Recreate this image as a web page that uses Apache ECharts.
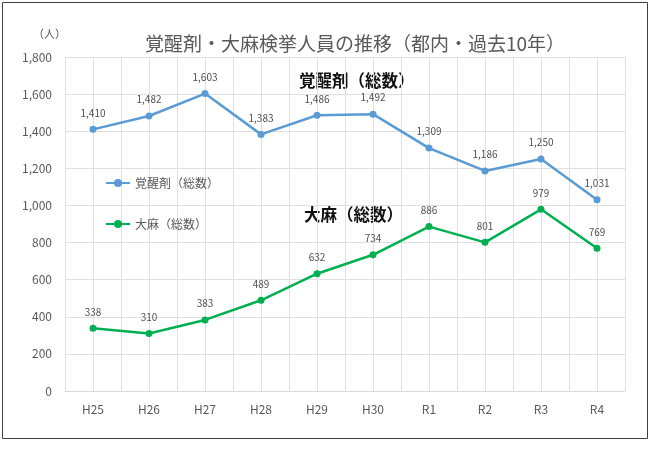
<!DOCTYPE html>
<html><head><meta charset="utf-8">
<script src="https://cdn.jsdelivr.net/npm/echarts@6/dist/echarts.min.js"></script>
<style>html,body{margin:0;padding:0;background:#fff}#c{width:650px;height:450px}</style>
</head><body><div id="c"></div>
<script>
const categories = ['H25','H26','H27','H28','H29','H30','R1','R2','R3','R4'];
const stimulants = [1410,1482,1603,1383,1486,1492,1309,1186,1250,1031];
const cannabis = [338,310,383,489,632,734,886,801,979,769];
const seriesNames = ['覚醒剤（総数）','大麻（総数）'];
const yTicks = {min:0,max:1800,interval:200};

const font = '"Noto Sans CJK JP", "Noto Sans", sans-serif';
const chart = echarts.init(document.getElementById('c'));
const fmt = v => v.toLocaleString('en-US');
chart.setOption({
  animation:false,
  textStyle:{fontFamily:font},
  title:{text:'覚醒剤・大麻検挙人員の推移（都内・過去10年）',left:140,top:29,
    textStyle:{fontSize:19,fontWeight:'normal',color:'#595959',fontFamily:font}},
  legend:{orient:'vertical',left:100,top:172,itemGap:29,itemWidth:24,itemHeight:10,
    textStyle:{fontSize:12,color:'#595959',fontFamily:font},data:seriesNames},
  grid:{left:65,right:25,top:57,bottom:59},
  xAxis:[{type:'category',data:categories,boundaryGap:true,
    axisLine:{show:true,lineStyle:{color:'#d9d9d9'}},axisTick:{show:false},
    axisLabel:{color:'#595959',fontSize:12,margin:12,fontFamily:font},splitLine:{show:false}},
    {type:'value',min:0,max:categories.length*2,interval:1,position:'top',
    axisLine:{show:false},axisTick:{show:false},axisLabel:{show:false},
    splitLine:{show:true,lineStyle:{color:'#e0e0e0',width:1}}}],
  yAxis:{type:'value',min:yTicks.min,max:yTicks.max,interval:yTicks.interval,
    axisLine:{show:false},axisTick:{show:false},
    axisLabel:{color:'#595959',fontSize:12,margin:13,formatter:fmt,fontFamily:font},
    splitLine:{lineStyle:{color:'#e0e0e0'}}},
  graphic:[
    {type:'rect',shape:{x:2.5,y:2.5,width:645,height:436},style:{fill:'none',stroke:'#404040',lineWidth:1}},
    {type:'text',left:33,top:28,style:{text:'（人）',fontSize:11,fill:'#595959',fontFamily:font}},
    {type:'text',left:299,top:72,style:{text:'覚醒剤（総数）',fontSize:16.5,fontWeight:'bold',fill:'#111',fontFamily:font}},
    {type:'text',left:304,top:206,style:{text:'大麻（総数）',fontSize:16.5,fontWeight:'bold',fill:'#111',fontFamily:font}}
  ],
  series:[
    {name:seriesNames[0],type:'line',data:stimulants,symbol:'circle',symbolSize:7,
      itemStyle:{color:'#5b9bd5'},lineStyle:{width:2.5,color:'#5b9bd5'},
      label:{show:true,position:'top',distance:8,fontSize:10,color:'#505050',formatter:p=>fmt(p.value)}},
    {name:seriesNames[1],type:'line',data:cannabis,symbol:'circle',symbolSize:7,
      itemStyle:{color:'#00b050'},lineStyle:{width:2.5,color:'#00b050'},
      label:{show:true,position:'top',distance:8,fontSize:10,color:'#505050',formatter:p=>fmt(p.value)}}
  ]
});
</script></body></html>
